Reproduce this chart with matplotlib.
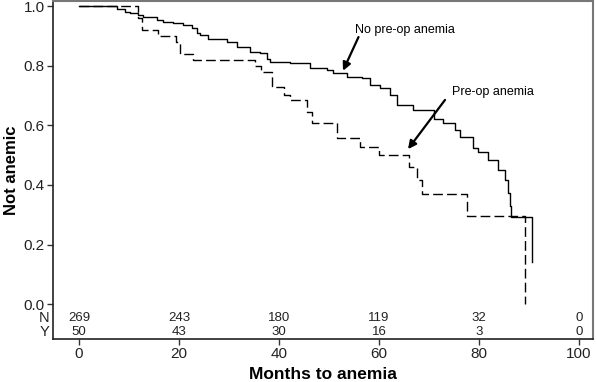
import matplotlib
matplotlib.use("Agg")
import matplotlib.pyplot as plt

plt.rcParams['font.family'] = ['Liberation Sans', 'DejaVu Sans']

# No pre-op anemia (solid) step curve
no_t = [0, 7.5, 9.2, 10.2, 11.8, 12.8, 15.6, 16.8, 18.8, 20.8, 22.6, 23.6, 24.2, 25.8,
        29.6, 31.6, 34.2, 36.2, 37.6, 38.2, 42.2, 46.2, 49.6, 50.8, 53.6, 56.6, 58.2,
        60.2, 62.2, 63.6, 66.8, 71.0, 72.8, 75.2, 76.2, 78.8, 79.8, 81.8, 83.8, 85.2,
        85.8, 86.2, 86.4, 90.5]
no_s = [1.0, 0.99, 0.98, 0.976, 0.97, 0.964, 0.953, 0.947, 0.942, 0.936, 0.925, 0.908,
        0.903, 0.891, 0.88, 0.864, 0.847, 0.841, 0.824, 0.813, 0.808, 0.791, 0.785,
        0.774, 0.763, 0.757, 0.735, 0.724, 0.701, 0.668, 0.651, 0.62, 0.607, 0.584,
        0.56, 0.523, 0.51, 0.483, 0.45, 0.416, 0.372, 0.33, 0.293, 0.142]

# Pre-op anemia (dashed) step curve
yes_t = [0, 11.8, 12.6, 15.8, 19.4, 20.2, 22.8, 35.2, 36.4, 38.6, 41.0, 42.2, 45.6,
         46.6, 51.6, 56.2, 60.0, 66.0, 67.6, 68.6, 77.6, 89.2]
yes_s = [1.0, 0.96, 0.92, 0.90, 0.88, 0.84, 0.82, 0.80, 0.78, 0.73, 0.70, 0.685, 0.645,
         0.608, 0.557, 0.528, 0.50, 0.46, 0.416, 0.371, 0.295, 0.0]

risk_times = [0, 20, 40, 60, 80, 100]
risk_no = [269, 243, 180, 119, 32, 0]
risk_yes = [50, 43, 30, 16, 3, 0]

x_ticks = [0, 20, 40, 60, 80, 100]
y_ticks = [0.0, 0.2, 0.4, 0.6, 0.8, 1.0]

fig = plt.figure(figsize=(5.97, 3.82), dpi=100)
ax = fig.add_axes([0.0888, 0.1126, 0.9045, 0.8848])

ax.step(no_t, no_s, where='post', color='black', lw=1.0)
ax.step(yes_t, yes_s, where='post', color='black', lw=1.0, linestyle=(0, (7, 3)))

ax.set_xlim(-5.2, 102.8)
ax.set_ylim(-0.117, 1.017)
ax.set_xticks(x_ticks)
ax.set_xticklabels([str(v) for v in x_ticks])
ax.set_yticks(y_ticks)
ax.set_yticklabels([f"{v:.1f}" for v in y_ticks])
ax.tick_params(direction='out', length=4, width=1, labelsize=11, color='#333333',
               labelcolor='#222222', pad=2)

for side in ['left', 'bottom']:
    ax.spines[side].set_color('#222222')
    ax.spines[side].set_linewidth(1.2)
for side in ['top', 'right']:
    ax.spines[side].set_color('#777777')
    ax.spines[side].set_linewidth(1.5)

# numbers at risk
for t, n, y in zip(risk_times, risk_no, risk_yes):
    ax.text(t, -0.046, str(n), ha='center', va='center', fontsize=9.5, color='#222222')
    ax.text(t, -0.095, str(y), ha='center', va='center', fontsize=9.5, color='#222222')
ax.text(-6.0, -0.046, 'N', ha='right', va='center', fontsize=10.5, color='#222222')
ax.text(-6.0, -0.095, 'Y', ha='right', va='center', fontsize=10.5, color='#222222')

ax.set_xlabel('Months to anemia', fontsize=12.5, fontweight='bold', labelpad=4)
ax.set_ylabel('Not anemic', fontsize=12, fontweight='bold', labelpad=3)

arrow_kw = dict(arrowstyle='-|>', color='black', lw=1.6, shrinkA=0, shrinkB=0,
                mutation_scale=12)
ax.text(55.2, 0.919, 'No pre-op anemia', fontsize=9, ha='left', va='center')
ax.annotate('', xy=(52.8, 0.783), xytext=(55.9, 0.896), arrowprops=arrow_kw)
ax.text(74.6, 0.711, 'Pre-op anemia', fontsize=9, ha='left', va='center')
ax.annotate('', xy=(65.8, 0.52), xytext=(73.2, 0.685), arrowprops=arrow_kw)

fig.savefig('out.png', dpi=100)
